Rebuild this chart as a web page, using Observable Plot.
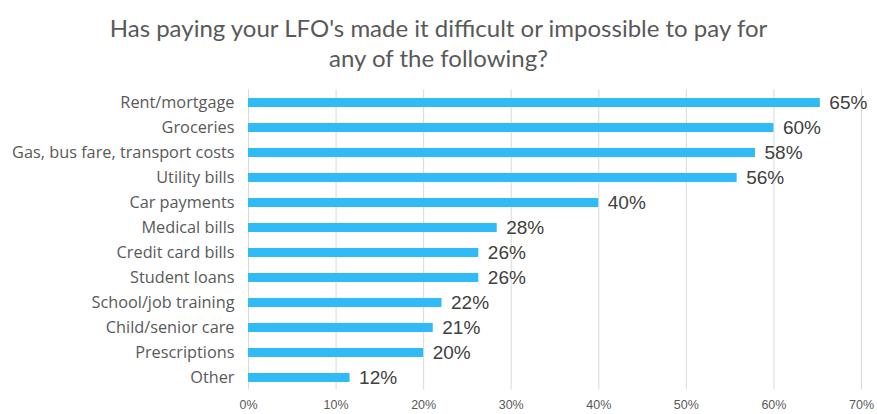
<!DOCTYPE html>
<html>
<head>
<meta charset="utf-8">
<script src="https://cdn.jsdelivr.net/npm/d3@7"></script>
<script src="https://cdn.jsdelivr.net/npm/@observablehq/plot@0.6"></script>
<style>
  html, body { margin: 0; padding: 0; background: #fff; }
  #wrap { width: 877px; height: 414px; overflow: hidden; }
  #title { height: 80px; box-sizing: border-box; padding-top: 13px; text-align: center;
    font-family: Lato, "Open Sans", sans-serif; font-size: 24px; line-height: 30px; color: #595959; }
  svg { display: block; }
</style>
</head>
<body>
<div id="wrap">
  <div id="title">Has paying your LFO's made it difficult or impossible to pay for<br>any of the following?</div>
  <div id="chart"></div>
</div>
<script>
const categories = ["Rent/mortgage", "Groceries", "Gas, bus fare, transport costs", "Utility bills",
  "Car payments", "Medical bills", "Credit card bills", "Student loans", "School/job training",
  "Child/senior care", "Prescriptions", "Other"];
const values = [0.653, 0.600, 0.579, 0.558, 0.400, 0.284, 0.263, 0.263, 0.221, 0.211, 0.200, 0.116];
const valueLabels = ["65%", "60%", "58%", "56%", "40%", "28%", "26%", "26%", "22%", "21%", "20%", "12%"];
const xTicks = [0, 0.1, 0.2, 0.3, 0.4, 0.5, 0.6, 0.7];

const data = categories.map((c, i) => ({category: c, value: values[i], label: valueLabels[i]}));

const chart = Plot.plot({
  width: 877,
  height: 334,
  marginLeft: 248,
  marginRight: 16,
  marginTop: 9.5,
  marginBottom: 24.5,
  x: {domain: [0, 0.7], ticks: xTicks, tickFormat: d => Math.round(d * 100) + "%"},
  y: {domain: categories, paddingInner: 0.64, paddingOuter: 0.32, label: null},
  marks: [
    Plot.gridX(xTicks, {stroke: "#d9d9d9", strokeOpacity: 1}),
    Plot.barX(data, {x: "value", y: "category", fill: "#30bbf6"}),
    Plot.text(data, {x: "value", y: "category", text: "label", textAnchor: "start", dx: 9,
      fontSize: 19, fill: "#404040", fontFamily: "Liberation Sans, Arial, sans-serif"}),
    Plot.axisX({ticks: xTicks, tickFormat: d => Math.round(d * 100) + "%", tickSize: 0, tickPadding: 10,
      fontSize: 12.5, fill: "#595959", label: null, fontFamily: "Liberation Sans, Arial, sans-serif"}),
    Plot.axisY({tickSize: 0, tickPadding: 14, fontSize: 16.3, fill: "#595959", label: null,
      fontFamily: "'Open Sans', Lato, sans-serif"})
  ]
});
chart.style.fontFamily = "Liberation Sans, Arial, sans-serif";
document.getElementById("chart").appendChild(chart);
</script>
</body>
</html>
